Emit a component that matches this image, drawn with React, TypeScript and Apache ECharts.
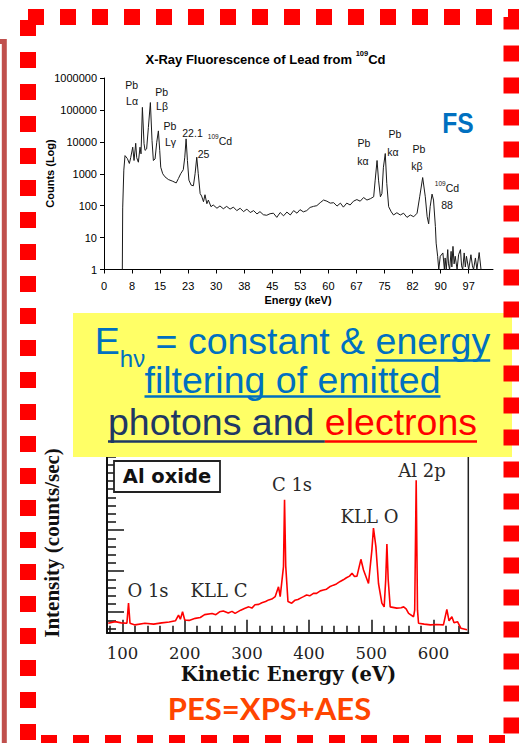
import React, { useEffect, useRef } from 'react';
import * as echarts from 'echarts';

// ---------- Top chart: X-ray fluorescence spectrum [energy keV, counts] ----------
const xrfSpectrum: [number, number][] = [
  [4.9, 1], [5.0, 85], [5.3, 1300], [5.62, 3700], [6.24, 3000], [6.78, 2100], [7.14, 3200], [7.68, 6800],
  [8.03, 2600], [8.48, 9000], [8.74, 3200], [9.19, 2300], [9.63, 6800], [9.9, 4200], [10.26, 120000],
  [10.7, 8800], [10.97, 5400], [11.4, 6000], [11.86, 28000], [12.4, 170000], [12.84, 11000], [13.2, 2600],
  [13.65, 2900], [14.1, 9700], [14.54, 22000], [14.9, 5400], [15.17, 1600], [15.7, 1000], [16.3, 800],
  [17.2, 660], [18.4, 580], [19.3, 515], [19.9, 710], [20.5, 1000], [21.2, 1340], [21.6, 3300],
  [21.95, 12400], [22.3, 2600], [22.7, 630], [23.3, 440], [23.9, 420], [24.35, 1000], [24.8, 3300],
  [25.2, 1000], [25.7, 240], [26.1, 200], [26.6, 133], [27.0, 220], [27.5, 115], [27.9, 150], [28.6, 93],
  [29.2, 105], [30.2, 83], [31.0, 98], [31.9, 80], [32.8, 95], [33.7, 78], [34.6, 90], [35.5, 70],
  [36.4, 83], [37.3, 65], [38.2, 78], [39.1, 61], [40.0, 70], [40.9, 55], [41.7, 65], [42.6, 52],
  [43.5, 50], [44.4, 56], [45.3, 58], [46.2, 43], [47.1, 61], [48.0, 48], [48.9, 63], [49.8, 51],
  [50.7, 70], [51.6, 58], [52.4, 75], [53.3, 64], [54.2, 70], [55.1, 88], [56.0, 95], [56.9, 100],
  [57.8, 124], [58.7, 150], [59.6, 138], [60.5, 120], [61.4, 124], [62.3, 97], [63.2, 120], [64.0, 90],
  [64.9, 120], [65.8, 105], [66.7, 138], [67.6, 155], [68.5, 138], [69.4, 180], [70.3, 150], [71.2, 165],
  [72.1, 190], [72.5, 630], [73.0, 2600], [73.4, 630], [73.9, 190], [74.3, 240], [74.7, 1600],
  [75.2, 4300], [75.6, 500], [76.1, 93], [76.8, 64], [77.4, 51], [78.3, 60], [79.2, 51], [80.1, 58],
  [81.0, 43], [81.9, 51], [82.8, 45], [83.7, 58], [84.4, 190], [85.2, 760], [85.9, 190], [86.4, 45],
  [86.8, 27], [87.2, 93], [87.7, 230], [88.1, 150], [88.6, 22], [88.8, 6.7], [89.2, 2.6], [89.5, 1],
  [89.9, 2.6], [90.6, 3.3], [91.0, 1], [91.2, 2.3], [91.5, 1], [91.9, 4.2], [92.1, 1.5], [92.4, 1],
  [92.8, 3.7], [93.0, 1.2], [93.3, 5.3], [93.6, 1.5], [93.9, 2.6], [94.4, 1], [94.8, 2.9], [95.3, 4.2],
  [95.6, 1.3], [95.9, 1], [96.3, 3.3], [96.6, 1.2], [96.9, 2.6], [97.5, 1], [98.1, 2.9], [98.5, 1.3],
  [98.8, 1], [99.3, 2.3], [99.7, 1], [100.3, 3.4], [100.8, 1],
];
const xrfTickValues = [0, 7.5, 15, 22.5, 30, 37.5, 45, 52.5, 60, 67.5, 75, 82.5, 90, 97.5];
const xrfTickLabels = ['0', '8', '15', '23', '30', '38', '45', '53', '60', '67', '75', '82', '90', '97'];

// ---------- Bottom chart: photoelectron spectrum [kinetic energy eV, intensity] ----------
const xpsSpectrum: [number, number][] = [
  [77, 2.3], [88, 2.7], [98, 2.4], [107, 2.3], [109.6, 7.2], [112, 2.3], [120, 1.9], [136, 2.3],
  [150, 2.1], [163, 2.4], [175, 2.6], [185, 2.9], [190, 4.3], [193, 3.3], [196.5, 5.1], [200, 3.1],
  [207, 3.0], [217, 3.5], [225, 3.7], [232, 4.4], [244, 4.7], [250, 4.4], [256, 5.1], [262, 5.3],
  [270, 4.8], [276, 5.2], [281, 4.7], [290, 5.5], [296, 5.9], [303, 6.3], [308, 6.0], [313, 6.8],
  [319, 6.9], [324, 7.3], [330, 7.6], [335, 8.0], [340, 8.2], [345.5, 8.8], [350.8, 11.2], [353.5, 8.8],
  [358.8, 16.1], [360.5, 32.4], [362.4, 16.3], [366, 7.6], [372, 7.2], [377, 7.9], [382, 8.1],
  [387, 8.5], [391, 8.8], [396, 9.2], [401, 9.0], [407, 9.6], [412, 9.6], [418, 10.2], [423, 10.4],
  [428, 10.6], [433, 11.2], [439, 11.6], [444, 11.9], [450, 12.5], [455, 12.9], [460, 13.4],
  [465, 13.8], [469, 14.5], [473, 13.7], [477, 13.8], [483.3, 17.9], [487.5, 15.3], [495.5, 12.0],
  [501, 20.2], [503.5, 25.5], [507.4, 21.0], [511.6, 12.0], [517, 7.2], [520.7, 6.3], [523.2, 12.9],
  [525.1, 21.6], [527.2, 12.9], [530.4, 6.3], [541, 6.0], [548, 6.1], [552, 6.3], [556, 5.8],
  [560, 4.7], [568, 3.9], [569.8, 5.5], [572.2, 37.2], [574.3, 5.5], [576, 2.3], [585, 2.1],
  [595, 1.9], [605, 2.0], [616, 1.9], [621.5, 5.7], [625, 2.9], [629.6, 3.9], [633, 2.4], [638.6, 2.7],
  [644, 1.1], [654, 0.7],
];
const xpsMajorTicks = [100, 200, 300, 400, 500, 600];
const xpsMinorTicks = [80, 120, 140, 160, 180, 220, 240, 260, 280, 320, 340, 360, 380, 420, 440, 460, 480, 520, 540, 560, 580, 620, 640];
const xpsYMajorTicks = [5, 15, 25, 35];
const xpsYMinorTicks = [1, 3, 7, 9, 11, 13, 17, 19, 21, 23, 27, 29, 31, 33, 37, 39, 41, 43];

const BLUE = '#0070C0';
const NAVY = '#1F3864';
const RED = '#FF0000';

let measureCtx: CanvasRenderingContext2D | null = null;
function textWidth(t: string, size: number, family: string, weight = 'normal') {
  if (!measureCtx) measureCtx = document.createElement('canvas').getContext('2d');
  measureCtx!.font = `${weight} ${size}px "${family}"`;
  return measureCtx!.measureText(t).width;
}

type Run = { text: string; size: number; color: string; family: string; weight?: string; dy?: number; underline?: string };

function runLine(cx: number, cy: number, items: Run[], z: number, ulY = 0, ulW = 2.5) {
  const widths = items.map((r) => textWidth(r.text, r.size, r.family, r.weight || 'normal'));
  let total = 0;
  widths.forEach((w) => (total += w));
  let x = cx - total / 2;
  const els: any[] = [];
  items.forEach((r, i) => {
    els.push({
      type: 'text', x, y: cy + (r.dy || 0), z,
      style: {
        text: r.text, fontSize: r.size, fontFamily: r.family, fontWeight: r.weight || 'normal', fill: r.color,
        align: 'left', verticalAlign: 'middle', textAlign: 'left', textVerticalAlign: 'middle',
      },
    });
    if (r.underline) {
      els.push({ type: 'line', z, shape: { x1: x, y1: ulY, x2: x + widths[i], y2: ulY }, style: { stroke: r.underline, lineWidth: ulW } });
    }
    x += widths[i];
  });
  return els;
}

function label(x: number, y: number, text: string, size: number, family: string, color: string, weight = 'normal', z = 10, rotation = 0) {
  return {
    type: 'text', x, y, z, rotation,
    style: {
      text, fontSize: size, fontFamily: family, fontWeight: weight, fill: color,
      align: 'center', verticalAlign: 'middle', textAlign: 'center', textVerticalAlign: 'middle',
    },
  };
}

function buildGraphics() {
  const SANS = 'Liberation Sans';
  const SERIF = 'DejaVu Serif';
  const els: any[] = [];

  // left frame edge of neighbouring panel
  els.push({ type: 'polyline', z: 5, shape: { points: [[-5, 41.5], [4.3, 41.5], [4.3, 760]] }, style: { stroke: '#C0504D', lineWidth: 5, fill: 'none' } });

  // top chart title (with superscript)
  els.push(...runLine(265.5, 59, [
    { text: 'X-Ray Fluorescence of Lead from ', size: 13, color: '#000', family: SANS, weight: 'bold' },
    { text: '109', size: 7.5, color: '#000', family: SANS, weight: 'bold', dy: -6 },
    { text: 'Cd', size: 13, color: '#000', family: SANS, weight: 'bold' },
  ], 10));
  els.push(label(50, 173.5, 'Counts (Log)', 11, SANS, '#000', 'bold', 10, Math.PI / 2));
  els.push(label(298, 300, 'Energy (keV)', 11, SANS, '#000', 'bold'));

  const ann = '#111';
  const a = 10.5;
  els.push(label(131.7, 85, 'Pb', a, SANS, ann), label(132, 100.5, 'Lα', a, SANS, ann));
  els.push(label(161.7, 91.5, 'Pb', a, SANS, ann), label(162, 106, 'Lβ', a, SANS, ann));
  els.push(label(170, 125.5, 'Pb', a, SANS, ann), label(170.5, 141.5, 'Lγ', a, SANS, ann));
  els.push(label(192.5, 132.5, '22.1', a, SANS, ann), label(203.5, 154, '25', a, SANS, ann));
  els.push(...runLine(220, 140.5, [
    { text: '109', size: 6.5, color: ann, family: SANS, dy: -4.5 },
    { text: 'Cd', size: 10.5, color: ann, family: SANS },
  ], 10));
  els.push(label(364, 143, 'Pb', a, SANS, ann), label(363, 161, 'kα', a, SANS, ann));
  els.push(label(395, 134, 'Pb', a, SANS, ann), label(393, 152, 'kα', a, SANS, ann));
  els.push(label(419, 149, 'Pb', a, SANS, ann), label(417, 166, 'kβ', a, SANS, ann));
  els.push(...runLine(447, 188, [
    { text: '109', size: 6.5, color: ann, family: SANS, dy: -4.5 },
    { text: 'Cd', size: 10.5, color: ann, family: SANS },
  ], 10));
  els.push(label(447, 205, '88', a, SANS, ann));
  els.push({ ...label(458, 122.6, 'FS', 30, SANS, BLUE, 'bold'), scaleX: 0.82 });

  // bottom chart labels
  els.push({ type: 'rect', z: 20, shape: { x: 114, y: 461, width: 106, height: 31 }, style: { fill: '#fff', stroke: '#222', lineWidth: 1.8 } });
  els.push(label(167, 476.5, 'Al oxide', 19.5, 'DejaVu Sans', '#111', 'bold', 21));
  const pk = '#2a2a2a';
  els.push(label(148, 590, 'O 1s', 18, SERIF, pk));
  els.push(label(219, 590, 'KLL C', 18, SERIF, pk));
  els.push(label(292, 484, 'C 1s', 18, SERIF, pk));
  els.push(label(369.5, 516, 'KLL O', 18, SERIF, pk));
  els.push(label(422, 470, 'Al 2p', 18, SERIF, pk));
  els.push(label(52, 543, 'Intensity (counts/sec)', 21, 'Liberation Serif', '#111', 'bold', 10, Math.PI / 2));
  els.push(label(288.5, 674, 'Kinetic Energy (eV)', 19.5, 'DejaVu Serif', '#111', 'bold'));
  els.push(label(269.5, 708, 'PES=XPS+AES', 31, 'Lato', '#FF4500', 'bold'));

  // yellow statement box
  els.push({ type: 'rect', z: 100, shape: { x: 73, y: 313, width: 439, height: 144 }, style: { fill: '#FFFF66' } });
  const F = 37.5;
  els.push(...runLine(292.5, 341, [
    { text: 'E', size: F, color: BLUE, family: SANS },
    { text: 'hν', size: 24, color: BLUE, family: SANS, dy: 17.4 },
    { text: ' = constant & ', size: F, color: BLUE, family: SANS },
    { text: 'energy', size: F, color: BLUE, family: SANS, underline: BLUE },
  ], 101, 360.5));
  els.push(...runLine(292.5, 380, [
    { text: 'filtering of emitted', size: F, color: BLUE, family: SANS, underline: BLUE },
  ], 101, 396.5));
  els.push(...runLine(292.5, 422, [
    { text: 'photons and ', size: F, color: NAVY, family: SANS, underline: NAVY },
    { text: 'electrons', size: F, color: RED, family: SANS, underline: RED },
  ], 101, 441.5));

  // red dashed frame
  els.push({ type: 'rect', z: 200, shape: { x: 28, y: 17, width: 483.5, height: 726 }, style: { fill: 'none', stroke: RED, lineWidth: 16, lineDash: [16, 16] } });
  return els;
}

function buildOption() {
  return {
    animation: false,
    backgroundColor: '#ffffff',
    grid: [
      { left: 104, top: 78, width: 389, height: 191.5, show: false },
      { left: 107, top: 448.2, width: 361.3, height: 184.5, show: true, borderColor: '#222', borderWidth: 1.5, backgroundColor: 'transparent' },
    ],
    xAxis: [
      {
        gridIndex: 0, type: 'value', min: 0, max: 104,
        axisLine: { show: true, lineStyle: { color: '#000', width: 1 } },
        axisTick: { show: true, customValues: xrfTickValues, length: 4, inside: false, lineStyle: { color: '#000', width: 1 } },
        axisLabel: {
          customValues: xrfTickValues, margin: 11, fontSize: 11, fontFamily: 'Liberation Sans', color: '#000',
          formatter: (v: number) => xrfTickLabels[xrfTickValues.indexOf(v)] ?? '',
        },
        splitLine: { show: false },
      },
      {
        gridIndex: 1, type: 'value', min: 75, max: 656, position: 'bottom',
        axisLine: { show: true, lineStyle: { color: '#111', width: 2 } },
        axisTick: { show: true, customValues: xpsMajorTicks, inside: true, length: 13, lineStyle: { color: '#111', width: 1.5 } },
        axisLabel: { customValues: xpsMajorTicks, margin: 12, fontSize: 16.5, fontFamily: 'DejaVu Serif', color: '#222', formatter: (v: number) => String(v) },
        splitLine: { show: false },
      },
      {
        gridIndex: 1, type: 'value', min: 75, max: 656, position: 'bottom',
        axisLine: { show: false },
        axisTick: { show: true, customValues: xpsMinorTicks, inside: true, length: 7, lineStyle: { color: '#111', width: 1.5 } },
        axisLabel: { show: false },
        splitLine: { show: false },
      },
    ],
    yAxis: [
      {
        gridIndex: 0, type: 'log', logBase: 10, min: 1, max: 1000000,
        axisLine: { show: true, lineStyle: { color: '#000', width: 1 } },
        axisTick: { show: true, length: 4, inside: false, lineStyle: { color: '#000', width: 1 } },
        axisLabel: { margin: 7, fontSize: 11, fontFamily: 'Liberation Sans', color: '#000', formatter: (v: number) => String(Math.round(v)) },
        splitLine: { show: false },
        minorTick: { show: false },
      },
      {
        gridIndex: 1, type: 'value', min: 0, max: 45, position: 'left',
        axisLine: { show: true, lineStyle: { color: '#111', width: 2 } },
        axisTick: { show: true, customValues: xpsYMajorTicks, inside: true, length: 17, lineStyle: { color: '#111', width: 1.5 } },
        axisLabel: { show: false },
        splitLine: { show: false },
      },
      {
        gridIndex: 1, type: 'value', min: 0, max: 45, position: 'left',
        axisLine: { show: false },
        axisTick: { show: true, customValues: xpsYMinorTicks, inside: true, length: 9, lineStyle: { color: '#111', width: 1.5 } },
        axisLabel: { show: false },
        splitLine: { show: false },
      },
    ],
    series: [
      {
        type: 'line', xAxisIndex: 0, yAxisIndex: 0, data: xrfSpectrum, showSymbol: false, symbol: 'none',
        lineStyle: { color: '#1a1a1a', width: 1 },
      },
      {
        type: 'line', xAxisIndex: 1, yAxisIndex: 1, data: xpsSpectrum, showSymbol: false, symbol: 'none',
        lineStyle: { color: '#FF0000', width: 1.6 },
      },
    ],
    graphic: { elements: buildGraphics() },
  };
}

export default function App() {
  const ref = useRef<HTMLDivElement>(null);
  useEffect(() => {
    document.body.style.margin = '0';
    const chart = echarts.init(ref.current!, undefined, { renderer: 'svg' });
    chart.setOption(buildOption() as any);
    return () => chart.dispose();
  }, []);
  return <div ref={ref} style={{ position: 'absolute', left: 0, top: 0, width: 519, height: 743 }} />;
}
